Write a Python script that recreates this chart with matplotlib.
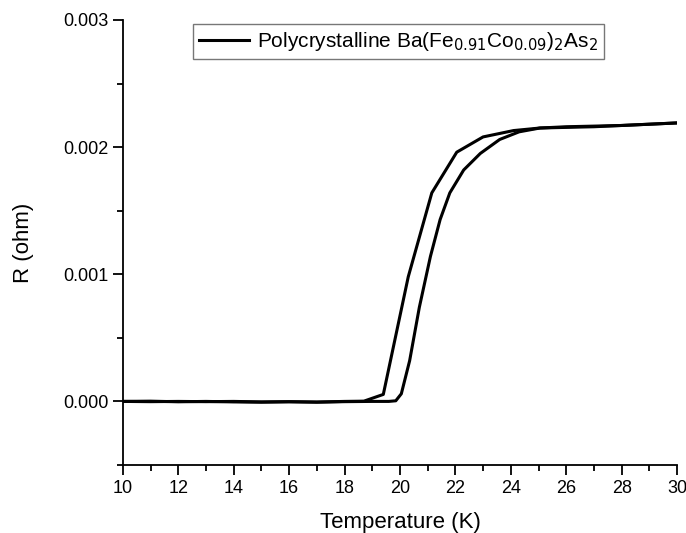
import matplotlib.pyplot as plt
from matplotlib.ticker import MultipleLocator, FormatStrFormatter

plt.rcParams['font.family'] = ['Liberation Sans', 'DejaVu Sans']

# cooling sweep (left branch), K and ohm
temp_a = [10.0, 11.0, 12.0, 13.0, 14.0, 15.0, 16.0, 17.0, 18.0, 18.7,
          19.4, 20.3, 21.15, 22.05, 23.0, 24.1, 25.05, 26.0, 27.0, 28.0, 29.0, 30.0]
res_a = [0.0, 0.000002, -0.000003, 0.0, -0.000004, -0.000006, -0.000003, -0.000005,
         0.0, 0.000002, 0.000055, 0.00098, 0.00164, 0.00196, 0.00208, 0.00213,
         0.00215, 0.002155, 0.00216, 0.00217, 0.00218, 0.00219]

# warming sweep (right branch)
temp_b = [10.0, 11.0, 12.0, 13.0, 14.0, 15.0, 16.0, 17.0, 18.0, 19.0, 19.6,
          19.85, 20.05, 20.35, 20.7, 21.1, 21.45, 21.8, 22.3, 22.9, 23.6, 24.3,
          25.05, 26.0, 27.0, 28.0, 29.0, 30.0]
res_b = [0.0, -0.000002, 0.0, -0.000002, 0.0, -0.000004, -0.000002, -0.000006,
         -0.000002, 0.0, 0.0, 0.000005, 0.00006, 0.00032, 0.00074, 0.00114,
         0.00143, 0.00164, 0.00182, 0.00195, 0.00206, 0.00212, 0.00215,
         0.00216, 0.002165, 0.00217, 0.00218, 0.00219]

fig = plt.figure(figsize=(6.86, 5.33), dpi=100)
ax = fig.add_axes([0.179, 0.1276, 0.808, 0.835])

label = 'Polycrystalline Ba(Fe$_{0.91}$Co$_{0.09}$)$_2$As$_2$'
ax.plot(temp_a, res_a, color='black', lw=2.2, label=label)
ax.plot(temp_b, res_b, color='black', lw=2.2)

ax.set_xlim(10, 30)
ax.set_ylim(-0.0005, 0.003)
ax.xaxis.set_major_locator(MultipleLocator(2))
ax.xaxis.set_minor_locator(MultipleLocator(1))
ax.yaxis.set_major_locator(MultipleLocator(0.001))
ax.yaxis.set_minor_locator(MultipleLocator(0.0005))
ax.yaxis.set_major_formatter(FormatStrFormatter('%.3f'))

for side in ['top', 'right']:
    ax.spines[side].set_visible(False)
for side in ['left', 'bottom']:
    ax.spines[side].set_linewidth(1.3)
ax.tick_params(which='major', direction='out', length=7, width=1.3, labelsize=13)
ax.tick_params(which='minor', direction='out', length=4, width=1.3)

ax.set_xlabel('Temperature (K)', fontsize=16, labelpad=11)
ax.set_ylabel('R (ohm)', fontsize=16, labelpad=21)

leg = ax.legend(loc='upper left', bbox_to_anchor=(0.126, 0.991), borderaxespad=0,
                fontsize=15, frameon=True, fancybox=False, edgecolor='#555555',
                handlelength=2.4, borderpad=0.3, handletextpad=0.4)
leg.get_frame().set_linewidth(1.0)

fig.savefig('out.png', dpi=100)
plt.close(fig)
